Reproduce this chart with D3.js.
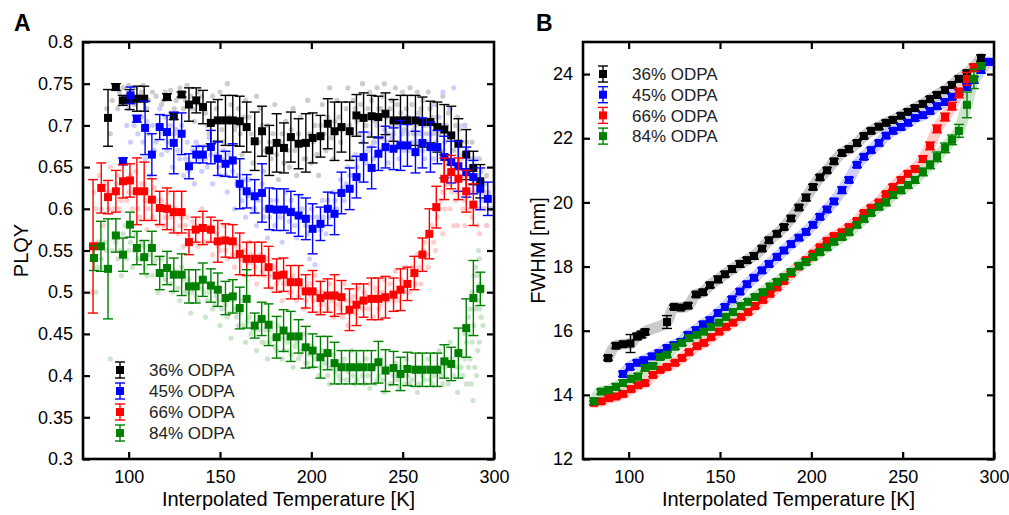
<!DOCTYPE html>
<html><head><meta charset="utf-8">
<script src="https://cdn.jsdelivr.net/npm/d3@7"></script>
<style>body{margin:0;background:#fff}svg{display:block;font-family:"Liberation Sans",Arial,Helvetica,sans-serif}</style>
</head><body>
<svg id="c" width="1009" height="515"></svg>
<script>
// ---------- DATA ----------
const seriesNames = ["36% ODPA","45% ODPA","66% ODPA","84% ODPA"];
const seriesColors = ["#000000","#0000ff","#ff0000","#008000"];
const rawColors = ["#c4c4c4","#c6c6ff","#ffc6c6","#c4e0c4"];
const xTicks = [100,150,200,250,300];
const yTicksA = [0.3,0.35,0.4,0.45,0.5,0.55,0.6,0.65,0.7,0.75,0.8];
const yTickLabelsA = ["0.3","0.35","0.4","0.45","0.5","0.55","0.6","0.65","0.7","0.75","0.8"];
const yTicksB = [12,14,16,18,20,22,24];

// Panel A binned PLQY: [T, value, error]
const plqy36 = [[88.7,0.709,0.034],[93,0.746,0.004],[96.8,0.730,0.006],[100.5,0.731,0.012],[104.5,0.732,0.015],[108.5,0.732,0.015],[121,0.734,0.004],[124.7,0.711,0.004],[129,0.737,0.003],[133,0.725,0.02],[137,0.730,0.015],[140.7,0.722,0.02],[145,0.703,0.025],[148.8,0.706,0.025],[153,0.706,0.03],[157,0.706,0.03],[160.8,0.705,0.03],[164.6,0.698,0.03],[169,0.681,0.035],[173,0.693,0.03],[177,0.670,0.03],[181,0.679,0.035],[185,0.673,0.03],[188.8,0.686,0.03],[193,0.678,0.03],[197,0.679,0.035],[200.7,0.685,0.03],[205,0.687,0.025],[209,0.702,0.03],[212.7,0.693,0.035],[216.5,0.698,0.03],[221,0.693,0.035],[224.7,0.712,0.025],[228.6,0.709,0.03],[233,0.711,0.025],[236.7,0.710,0.025],[240.6,0.714,0.025],[245,0.706,0.025],[248.8,0.706,0.03],[252.6,0.706,0.03],[257,0.706,0.03],[260.8,0.704,0.03],[265.2,0.704,0.025],[269,0.698,0.03],[272.8,0.695,0.03],[276.6,0.688,0.035],[280.5,0.678,0.03],[284.8,0.665,0.03],[288.7,0.649,0.02],[292.5,0.633,0.02]];
const plqy45 = [[96.9,0.657,0.004],[101,0.736,0.01],[104.5,0.708,0.004],[109,0.697,0.032],[112.7,0.665,0.025],[117,0.698,0.015],[121,0.692,0.02],[124.7,0.679,0.037],[129,0.690,0.025],[133,0.651,0.015],[137,0.665,0.01],[140.6,0.665,0.01],[145,0.674,0.02],[148.8,0.660,0.02],[153,0.654,0.015],[157,0.658,0.02],[160.8,0.630,0.03],[164.6,0.621,0.02],[169,0.615,0.02],[173,0.619,0.035],[177,0.600,0.025],[181,0.599,0.025],[185,0.599,0.025],[188.8,0.596,0.025],[193,0.592,0.025],[197,0.588,0.025],[200.7,0.576,0.03],[205,0.582,0.02],[209,0.600,0.02],[212.7,0.594,0.025],[216.5,0.619,0.025],[221,0.624,0.025],[224.7,0.638,0.025],[228.6,0.662,0.03],[233,0.649,0.025],[236.7,0.666,0.02],[240.6,0.674,0.025],[245,0.672,0.025],[248.8,0.676,0.03],[252.6,0.676,0.025],[257,0.668,0.025],[260.8,0.679,0.03],[265.2,0.674,0.03],[269,0.674,0.02],[272.8,0.662,0.025],[276.6,0.656,0.025],[280.5,0.651,0.03],[284.8,0.644,0.03],[288.7,0.638,0.02],[292.5,0.624,0.025],[296.6,0.612,0.02]];
const plqy66 = [[80.5,0.555,0.08],[85,0.625,0.03],[88.7,0.614,0.02],[93,0.621,0.025],[96.9,0.633,0.02],[100.7,0.634,0.02],[104.5,0.621,0.04],[108.5,0.621,0.035],[112.7,0.611,0.025],[117,0.601,0.02],[121,0.600,0.025],[124.7,0.596,0.025],[129,0.596,0.025],[133,0.560,0.015],[136.7,0.575,0.015],[140.6,0.577,0.02],[145,0.575,0.015],[148.8,0.561,0.025],[153,0.562,0.02],[157,0.561,0.02],[160.8,0.546,0.025],[164.6,0.540,0.02],[169,0.540,0.02],[172.8,0.540,0.02],[176.6,0.530,0.025],[181,0.520,0.02],[184.8,0.521,0.02],[188.7,0.512,0.02],[193,0.512,0.02],[196.9,0.501,0.02],[200.7,0.501,0.025],[205,0.493,0.02],[208.9,0.496,0.02],[212.7,0.496,0.025],[216.5,0.494,0.02],[220.9,0.479,0.025],[224.7,0.485,0.025],[228.6,0.490,0.02],[232.9,0.492,0.025],[236.7,0.492,0.025],[240.6,0.494,0.025],[245,0.497,0.02],[248.8,0.503,0.025],[252.6,0.510,0.02],[256.4,0.523,0.02],[260.8,0.545,0.02],[264.6,0.570,0.03],[268.4,0.602,0.025],[272.8,0.636,0.025],[276.6,0.644,0.02],[280.5,0.636,0.025],[284.8,0.621,0.025],[288.7,0.605,0.025]];
const plqy84 = [[81,0.541,0.015],[84.8,0.555,0.03],[88.7,0.528,0.06],[93,0.568,0.02],[96.9,0.545,0.02],[100.7,0.581,0.015],[104.5,0.553,0.02],[108.5,0.542,0.02],[112.7,0.553,0.02],[117,0.523,0.02],[121,0.529,0.02],[124.7,0.521,0.02],[129,0.521,0.025],[133,0.507,0.02],[136.7,0.507,0.02],[140.6,0.515,0.02],[145,0.508,0.02],[148.8,0.503,0.02],[153,0.493,0.02],[157,0.495,0.02],[160.8,0.481,0.025],[164.6,0.492,0.035],[169,0.460,0.015],[172.8,0.468,0.02],[176.6,0.461,0.025],[181,0.446,0.025],[184.8,0.454,0.025],[188.7,0.447,0.03],[193,0.447,0.02],[196.9,0.434,0.025],[200.7,0.430,0.02],[205,0.422,0.025],[208.9,0.427,0.02],[212.7,0.415,0.025],[216.5,0.410,0.02],[220.9,0.410,0.02],[224.7,0.410,0.02],[228.6,0.410,0.02],[232.9,0.410,0.02],[236.7,0.416,0.025],[240.6,0.406,0.025],[245,0.409,0.02],[248.8,0.402,0.02],[252.6,0.408,0.02],[257,0.407,0.02],[260.8,0.407,0.02],[265.2,0.407,0.02],[269,0.407,0.02],[272.8,0.417,0.02],[276.6,0.414,0.02],[280.5,0.427,0.03],[284.8,0.457,0.035],[288.7,0.493,0.045],[292.5,0.504,0.02]];

// Panel A raw PLQY points: [T, value]
const raw36 = [[88,0.72],[90,0.69],[92,0.748],[95,0.74],[97,0.745],[100,0.748],[102,0.74],[104,0.745],[106,0.735],[108,0.748],[110,0.72],[113,0.74],[118,0.725],[120,0.74],[123,0.742],[126,0.73],[128,0.745],[130,0.72],[132,0.748],[134,0.735],[136,0.705],[138,0.74],[140,0.735],[142,0.715],[144,0.69],[146,0.735],[148,0.72],[150,0.74],[152,0.68],[154,0.75],[156,0.725],[158,0.695],[160,0.72],[162,0.665],[164,0.73],[166,0.71],[168,0.655],[170,0.735],[172,0.72],[174,0.645],[176,0.7],[178,0.66],[180,0.725],[182,0.635],[184,0.69],[186,0.705],[188,0.65],[190,0.72],[192,0.64],[194,0.71],[196,0.66],[198,0.73],[200,0.655],[202,0.7],[204,0.64],[206,0.725],[208,0.67],[210,0.745],[212,0.66],[214,0.73],[216,0.68],[218,0.7],[220,0.745],[222,0.66],[224,0.72],[226,0.69],[228,0.75],[230,0.7],[232,0.74],[234,0.68],[236,0.745],[238,0.72],[240,0.75],[242,0.69],[244,0.73],[246,0.745],[248,0.7],[250,0.74],[252,0.72],[254,0.745],[256,0.69],[258,0.74],[260,0.72],[262,0.7],[264,0.74],[266,0.71],[268,0.725],[270,0.69],[272,0.735],[274,0.7],[276,0.72],[278,0.67],[280,0.71],[282,0.68],[284,0.7],[286,0.66],[288,0.68],[290,0.64],[292,0.66],[294,0.62],[296,0.64],[298,0.6],
 [91,0.73],[94,0.72],[99,0.735],[103,0.725],[107,0.74],[111,0.73],[115,0.735],[119,0.73],[125,0.72],[131,0.73],[135,0.72],[139,0.725],[143,0.7],[147,0.705],[151,0.695],[155,0.71],[159,0.7],[161,0.69],[163,0.71],[167,0.69],[171,0.68],[173,0.7],[175,0.67],[177,0.68],[179,0.69],[181,0.665],[183,0.68],[185,0.655],[187,0.67],[189,0.695],[191,0.67],[193,0.69],[195,0.68],[197,0.66],[199,0.69],[201,0.68],[203,0.665],[205,0.7],[207,0.69],[209,0.71],[211,0.685],[213,0.705],[215,0.71],[217,0.695],[219,0.72],[221,0.7],[223,0.73],[225,0.705],[227,0.725],[229,0.71],[231,0.72],[233,0.73],[235,0.705],[237,0.72],[239,0.735],[241,0.71],[243,0.72],[245,0.7],[247,0.725],[249,0.715],[251,0.695],[253,0.71],[255,0.725],[257,0.7],[259,0.715],[261,0.73],[263,0.69],[265,0.72],[267,0.69],[269,0.71],[271,0.7],[273,0.68],[275,0.715],[277,0.69],[279,0.7],[281,0.695],[283,0.665],[285,0.68],[287,0.65],[289,0.66],[291,0.63],[293,0.645],[295,0.6],[297,0.62]];
const raw45 = [[97,0.66],[100,0.72],[103,0.7],[106,0.73],[108,0.68],[110,0.705],[112,0.64],[114,0.67],[116,0.7],[118,0.665],[120,0.71],[122,0.68],[124,0.65],[126,0.695],[128,0.66],[130,0.64],[132,0.68],[134,0.655],[136,0.63],[138,0.675],[140,0.645],[142,0.66],[144,0.685],[146,0.63],[148,0.665],[150,0.64],[152,0.67],[154,0.62],[156,0.655],[158,0.6],[160,0.64],[162,0.61],[164,0.59],[166,0.635],[168,0.6],[170,0.58],[172,0.62],[174,0.59],[176,0.565],[178,0.61],[180,0.58],[182,0.6],[184,0.56],[186,0.62],[188,0.585],[190,0.6],[192,0.565],[194,0.615],[196,0.59],[198,0.57],[199,0.54],[200,0.6],[202,0.533],[204,0.58],[206,0.61],[208,0.57],[210,0.59],[212,0.62],[214,0.6],[216,0.635],[218,0.61],[220,0.65],[222,0.625],[224,0.665],[226,0.64],[228,0.68],[230,0.655],[232,0.69],[234,0.66],[236,0.7],[238,0.67],[240,0.695],[242,0.655],[244,0.685],[246,0.7],[248,0.66],[250,0.69],[252,0.71],[254,0.67],[256,0.695],[258,0.68],[260,0.71],[262,0.66],[264,0.7],[266,0.725],[268,0.68],[270,0.71],[272,0.74],[274,0.69],[276,0.72],[278,0.745],[280,0.68],[282,0.66],[284,0.7],[286,0.64],[288,0.62],[290,0.66],[292,0.6],[294,0.62],[296,0.58],[298,0.6],
 [99,0.7],[101,0.68],[105,0.69],[107,0.71],[109,0.66],[111,0.69],[113,0.7],[115,0.68],[117,0.72],[119,0.69],[121,0.67],[123,0.7],[125,0.69],[127,0.67],[129,0.7],[131,0.66],[133,0.645],[135,0.67],[137,0.68],[139,0.66],[141,0.675],[143,0.65],[145,0.665],[147,0.68],[149,0.65],[151,0.66],[153,0.64],[155,0.665],[157,0.645],[159,0.63],[161,0.625],[163,0.635],[165,0.615],[167,0.62],[169,0.6],[171,0.61],[173,0.63],[175,0.6],[177,0.59],[179,0.6],[181,0.61],[183,0.59],[185,0.6],[187,0.6],[189,0.61],[191,0.58],[193,0.59],[195,0.6],[197,0.58],[199,0.59],[201,0.575],[203,0.59],[205,0.575],[207,0.59],[209,0.61],[211,0.6],[213,0.61],[215,0.62],[217,0.625],[219,0.63],[221,0.64],[223,0.64],[225,0.65],[227,0.66],[229,0.665],[231,0.67],[233,0.675],[235,0.68],[237,0.665],[239,0.685],[241,0.68],[243,0.67],[245,0.69],[247,0.675],[249,0.68],[251,0.67],[253,0.69],[255,0.68],[257,0.665],[259,0.69],[261,0.67],[263,0.68],[265,0.69],[267,0.66],[269,0.695],[271,0.67],[273,0.7],[275,0.66],[277,0.69],[279,0.65],[281,0.7],[283,0.64],[285,0.67],[287,0.66],[289,0.63],[291,0.64],[293,0.61],[295,0.63],[297,0.61]];
const raw66 = [[80,0.5],[82,0.6],[84,0.64],[86,0.58],[88,0.62],[90,0.65],[92,0.6],[94,0.64],[96,0.61],[98,0.655],[100,0.62],[102,0.6],[104,0.645],[106,0.59],[108,0.63],[110,0.575],[112,0.61],[114,0.625],[116,0.58],[118,0.61],[120,0.59],[122,0.62],[124,0.575],[126,0.6],[128,0.58],[130,0.555],[132,0.59],[134,0.565],[136,0.58],[138,0.555],[140,0.6],[142,0.56],[144,0.575],[146,0.545],[148,0.57],[150,0.55],[152,0.58],[154,0.54],[156,0.56],[158,0.53],[160,0.555],[162,0.54],[164,0.52],[166,0.56],[168,0.535],[170,0.51],[172,0.545],[174,0.52],[176,0.54],[178,0.505],[180,0.53],[182,0.515],[184,0.49],[186,0.525],[188,0.5],[190,0.52],[192,0.49],[194,0.51],[196,0.48],[198,0.505],[200,0.495],[202,0.52],[204,0.475],[206,0.5],[208,0.485],[210,0.51],[212,0.47],[214,0.495],[216,0.48],[218,0.51],[220,0.46],[222,0.49],[224,0.475],[226,0.505],[228,0.48],[230,0.495],[232,0.51],[234,0.47],[236,0.5],[238,0.485],[240,0.515],[242,0.49],[244,0.5],[246,0.525],[248,0.49],[250,0.51],[252,0.53],[254,0.5],[256,0.52],[258,0.545],[260,0.51],[262,0.56],[264,0.53],[266,0.58],[268,0.55],[270,0.6],[272,0.57],[272,0.62],[274,0.63],[276,0.6],[276,0.63],[278,0.65],[278,0.58],[280,0.58],[280,0.62],[282,0.66],[283,0.64],[284,0.61],[284,0.58],[286,0.64],[288,0.59],[288,0.64],[290,0.62],[290,0.6],[292,0.57],[293,0.63],[294,0.6],[296,0.58],
 [81,0.62],[83,0.56],[85,0.6],[87,0.63],[89,0.6],[91,0.62],[93,0.63],[95,0.6],[97,0.635],[99,0.61],[101,0.64],[103,0.62],[105,0.6],[107,0.63],[109,0.61],[111,0.6],[113,0.59],[115,0.61],[117,0.6],[119,0.58],[121,0.605],[123,0.59],[125,0.6],[127,0.57],[129,0.59],[131,0.58],[133,0.57],[135,0.585],[137,0.56],[139,0.58],[141,0.575],[143,0.56],[145,0.58],[147,0.56],[149,0.555],[151,0.565],[153,0.55],[155,0.56],[157,0.545],[159,0.555],[161,0.54],[163,0.55],[165,0.535],[167,0.545],[169,0.53],[171,0.54],[173,0.525],[175,0.53],[177,0.52],[179,0.53],[181,0.51],[183,0.52],[185,0.51],[187,0.515],[189,0.5],[191,0.51],[193,0.495],[195,0.505],[197,0.49],[199,0.51],[201,0.49],[203,0.5],[205,0.485],[207,0.495],[209,0.48],[211,0.49],[213,0.5],[215,0.485],[217,0.47],[219,0.49],[221,0.475],[223,0.495],[225,0.48],[227,0.49],[229,0.5],[231,0.48],[233,0.49],[235,0.505],[237,0.48],[239,0.5],[241,0.49],[243,0.51],[245,0.49],[247,0.5],[249,0.515],[251,0.5],[253,0.51],[255,0.53],[257,0.51],[259,0.53],[261,0.55],[263,0.545],[265,0.57],[267,0.56],[269,0.59],[271,0.61],[273,0.6],[275,0.64],[277,0.62],[279,0.61],[281,0.64],[283,0.6],[285,0.62],[287,0.6],[289,0.62],[291,0.58],[293,0.6],[295,0.62]];
const raw84 = [[80,0.54],[82,0.5],[84,0.56],[86,0.53],[88,0.55],[90,0.42],[92,0.57],[94,0.54],[96,0.52],[98,0.58],[100,0.55],[102,0.53],[104,0.57],[106,0.54],[108,0.555],[110,0.52],[112,0.56],[114,0.535],[116,0.5],[118,0.54],[120,0.515],[122,0.53],[124,0.5],[126,0.525],[128,0.49],[130,0.515],[132,0.5],[134,0.475],[136,0.51],[138,0.49],[140,0.505],[142,0.47],[144,0.5],[146,0.48],[148,0.495],[150,0.46],[152,0.49],[154,0.47],[156,0.445],[158,0.48],[160,0.46],[162,0.49],[164,0.44],[166,0.47],[168,0.455],[170,0.43],[172,0.465],[174,0.44],[176,0.42],[178,0.455],[180,0.435],[182,0.46],[184,0.42],[186,0.445],[188,0.43],[190,0.41],[192,0.44],[194,0.425],[196,0.45],[198,0.415],[200,0.435],[202,0.42],[204,0.4],[206,0.43],[208,0.415],[210,0.39],[212,0.425],[214,0.41],[216,0.395],[218,0.42],[220,0.405],[222,0.43],[224,0.39],[226,0.415],[228,0.4],[230,0.42],[232,0.385],[234,0.41],[236,0.395],[238,0.42],[240,0.38],[242,0.405],[244,0.39],[246,0.415],[248,0.385],[250,0.4],[252,0.42],[254,0.39],[256,0.405],[258,0.38],[260,0.41],[262,0.395],[264,0.42],[266,0.39],[268,0.405],[270,0.43],[272,0.39],[274,0.42],[276,0.44],[278,0.4],[280,0.38],[282,0.41],[284,0.45],[285,0.39],[286,0.47],[287,0.42],[288,0.5],[288.5,0.37],[289,0.46],[290,0.53],[290.5,0.4],[291,0.49],[291.5,0.55],[292,0.44],[292.5,0.51],[293,0.47],
 [81,0.555],[83,0.53],[85,0.54],[87,0.56],[89,0.53],[91,0.55],[93,0.56],[95,0.55],[97,0.57],[99,0.54],[101,0.56],[103,0.55],[105,0.54],[107,0.56],[109,0.53],[111,0.545],[113,0.52],[115,0.54],[117,0.525],[119,0.52],[121,0.53],[123,0.51],[125,0.52],[127,0.505],[129,0.53],[131,0.5],[133,0.515],[135,0.5],[137,0.495],[139,0.51],[141,0.5],[143,0.49],[145,0.505],[147,0.485],[149,0.49],[151,0.48],[153,0.485],[155,0.475],[157,0.49],[159,0.47],[161,0.475],[163,0.46],[165,0.465],[167,0.45],[169,0.46],[171,0.455],[173,0.44],[175,0.455],[177,0.44],[179,0.445],[181,0.43],[183,0.445],[185,0.43],[187,0.44],[189,0.425],[191,0.435],[193,0.42],[195,0.43],[197,0.415],[199,0.425],[201,0.41],[203,0.42],[205,0.41],[207,0.415],[209,0.4],[211,0.41],[213,0.405],[215,0.4],[217,0.415],[219,0.395],[221,0.41],[223,0.4],[225,0.395],[227,0.41],[229,0.39],[231,0.4],[233,0.41],[235,0.39],[237,0.4],[239,0.395],[241,0.41],[243,0.39],[245,0.4],[247,0.395],[249,0.41],[251,0.39],[253,0.4],[255,0.395],[257,0.41],[259,0.39],[261,0.4],[263,0.41],[265,0.395],[267,0.4],[269,0.41],[271,0.4],[273,0.41],[275,0.39],[277,0.42],[279,0.41],[281,0.43],[283,0.4],[284,0.42],[285,0.44],[286,0.41],[286.5,0.45],[287,0.48],[287.5,0.39],[288,0.44],[289,0.52],[289.5,0.41],[290,0.48],[291,0.43],[291,0.52],[292,0.54],[292,0.48],[293,0.5],[294,0.46]];

// Panel B binned FWHM [nm]: [T, value, error]
const fwhm36 = [[88.7,15.15,0.07],[93,15.53,0.08],[97,15.58,0.06],[101,15.6,0.28],[104.6,15.82,0.1],[107,15.88,0.1],[109,15.96,0.08],[121,16.27,0.2],[124.8,16.74,0.06],[128.6,16.72,0.06],[132.5,16.78,0.08],[136.9,17.13,0.08],[140.7,17.2,0.08],[144.5,17.42,0.08],[148.9,17.6,0.1],[152.7,17.76,0.08],[156.6,17.92,0.1],[160.9,18.08,0.1],[164.8,18.2,0.08],[168.6,18.33,0.1],[173,18.56,0.08],[176.8,18.82,0.08],[181.2,19.02,0.08],[185,19.23,0.08],[188.9,19.5,0.08],[193.2,19.84,0.08],[197.1,20.15,0.1],[200.9,20.48,0.08],[204.7,20.78,0.08],[208.6,21.0,0.08],[212.4,21.28,0.08],[216.8,21.54,0.08],[220.6,21.66,0.08],[225,21.85,0.08],[228.8,22.07,0.08],[232.7,22.23,0.08],[237,22.36,0.08],[240.9,22.48,0.08],[244.7,22.57,0.08],[249.1,22.7,0.08],[252.9,22.82,0.08],[256.7,22.94,0.08],[261.1,23.07,0.08],[265,23.22,0.08],[268.8,23.35,0.08],[273.2,23.5,0.08],[277,23.66,0.08],[280.8,23.85,0.08],[285.2,24.03,0.08],[289,24.22,0.08],[292.9,24.5,0.1]];
const fwhm45 = [[96.9,14.65,0.08],[100.7,14.87,0.08],[104.6,15.0,0.08],[108.4,15.08,0.08],[112.8,15.2,0.08],[116.6,15.3,0.08],[121,15.46,0.08],[124.8,15.55,0.08],[128.6,15.65,0.08],[132.5,15.87,0.08],[136.9,16.02,0.08],[140.7,16.2,0.08],[144.5,16.33,0.08],[148.9,16.55,0.08],[152.7,16.74,0.08],[156.6,16.98,0.08],[160.9,17.22,0.08],[164.8,17.45,0.08],[168.6,17.65,0.08],[173,17.88,0.08],[176.8,18.08,0.08],[181.2,18.3,0.08],[185,18.5,0.08],[188.9,18.7,0.08],[193.2,18.9,0.08],[197.1,19.08,0.08],[200.9,19.3,0.08],[204.7,19.55,0.08],[208.6,19.78,0.08],[212.4,20.03,0.08],[216.8,20.38,0.1],[220.6,20.7,0.08],[225,21.17,0.08],[228.8,21.42,0.08],[232.7,21.63,0.08],[237,21.85,0.08],[240.9,22.08,0.08],[244.7,22.23,0.08],[249.1,22.35,0.08],[252.9,22.48,0.08],[256.7,22.63,0.08],[261.1,22.72,0.08],[265,22.85,0.08],[268.8,23.0,0.08],[273.2,23.13,0.08],[277,23.29,0.08],[280.8,23.44,0.08],[285.2,23.6,0.1],[289,23.82,0.1],[292.9,24.13,0.1],[297.3,24.38,0.1]];
const fwhm66 = [[81,13.75,0.06],[84.9,13.8,0.06],[89.2,13.9,0.06],[93.1,13.95,0.06],[96.9,14.03,0.06],[101.3,14.18,0.06],[105.1,14.3,0.06],[108.9,14.37,0.06],[113.3,14.62,0.06],[117.2,14.78,0.06],[121,14.87,0.06],[125.4,15.0,0.06],[129.2,15.15,0.06],[133,15.33,0.06],[137.4,15.52,0.06],[141.2,15.62,0.06],[145.1,15.8,0.06],[149.5,15.97,0.06],[153.3,16.12,0.06],[157.1,16.25,0.06],[161.5,16.43,0.06],[165.3,16.58,0.06],[169.2,16.77,0.06],[173.5,16.96,0.06],[177.4,17.15,0.06],[181.2,17.35,0.06],[185,17.55,0.06],[188.9,17.78,0.06],[193.2,18.0,0.06],[197.1,18.2,0.06],[200.9,18.4,0.06],[204.7,18.6,0.06],[208.6,18.8,0.06],[212.4,18.95,0.06],[216.8,19.07,0.06],[220.6,19.23,0.06],[225,19.42,0.06],[228.8,19.67,0.06],[232.7,19.83,0.06],[237,20.0,0.06],[240.9,20.26,0.06],[244.7,20.48,0.08],[249.1,20.7,0.08],[252.9,20.89,0.08],[256.7,21.04,0.08],[261.1,21.35,0.1],[265,21.76,0.12],[268.8,22.29,0.12],[273.2,22.66,0.12],[277,23.0,0.12],[280.8,23.41,0.15],[285.2,23.85,0.2],[289,24.2,0.12]];
const fwhm84 = [[81,13.8,0.1],[84.9,14.1,0.08],[89.2,14.15,0.1],[93.1,14.25,0.1],[96.9,14.37,0.1],[101.3,14.5,0.1],[105.1,14.57,0.1],[108.9,14.84,0.1],[113.3,14.9,0.08],[117.2,15.18,0.08],[121,15.25,0.08],[125.4,15.5,0.08],[129.2,15.62,0.08],[133,15.77,0.08],[137.4,15.87,0.08],[141.2,15.97,0.08],[145.1,16.12,0.08],[149.5,16.25,0.08],[153.3,16.43,0.08],[157.1,16.58,0.08],[161.5,16.77,0.08],[165.3,16.9,0.08],[169.2,17.05,0.08],[173.5,17.2,0.08],[177.4,17.38,0.08],[181.2,17.52,0.08],[185,17.67,0.08],[188.9,17.83,0.08],[193.2,18.02,0.08],[197.1,18.14,0.08],[200.9,18.3,0.08],[204.7,18.45,0.08],[208.6,18.6,0.08],[212.4,18.77,0.08],[216.8,18.92,0.08],[220.6,19.07,0.08],[225,19.3,0.08],[228.8,19.48,0.08],[232.7,19.67,0.08],[237,19.86,0.08],[240.9,20.0,0.1],[244.7,20.23,0.1],[249.1,20.38,0.1],[252.9,20.54,0.1],[256.7,20.7,0.1],[261.1,20.95,0.12],[265,21.17,0.12],[268.8,21.42,0.15],[273.2,21.7,0.15],[277,21.95,0.15],[280.8,22.23,0.2],[285.2,23.04,0.4],[289,23.85,0.3],[292.9,24.25,0.1]];

// ---------- DRAW ----------
const svg = d3.select("#c");
const FONT = '"Liberation Sans",Arial,Helvetica,sans-serif';

function panel(opts){
  const {x0,x1,y0,y1,xDom,yDom,yTicks,yFmt,yLabel,yLabelX,letter,letterX,raw,binned,halo,legendX,legendY,legendStep,id} = opts;
  const x = d3.scaleLinear().domain(xDom).range([x0,x1]);
  const y = d3.scaleLinear().domain(yDom).range([y1,y0]);
  const g = svg.append("g");
  g.append("clipPath").attr("id",id).append("rect").attr("x",x0).attr("y",y0).attr("width",x1-x0).attr("height",y1-y0);
  const plot = g.append("g").attr("clip-path",`url(#${id})`);

  if(raw){
    raw.forEach((pts,i)=>{
      plot.append("g").selectAll("circle").data(pts).join("circle")
        .attr("cx",d=>x(d[0])).attr("cy",d=>y(d[1])).attr("r",2.6)
        .attr("fill",rawColors[i]).attr("fill-opacity",0.85);
    });
  }
  if(halo){
    halo.forEach((pts,i)=>{
      plot.append("path").datum(pts)
        .attr("d",d3.line().x(d=>x(d[0])).y(d=>y(d[1])).curve(d3.curveMonotoneX))
        .attr("fill","none").attr("stroke",rawColors[i]).attr("stroke-width",11)
        .attr("stroke-linecap","round").attr("stroke-linejoin","round").attr("stroke-opacity",0.9);
    });
  }
  binned.forEach((pts,i)=>{
    const c = seriesColors[i];
    const sg = plot.append("g");
    const eb = sg.append("g").attr("stroke",c).attr("stroke-width",1.4);
    eb.selectAll("line.v").data(pts).join("line").attr("class","v")
      .attr("x1",d=>x(d[0])).attr("x2",d=>x(d[0])).attr("y1",d=>y(d[1]-d[2])).attr("y2",d=>y(d[1]+d[2]));
    eb.selectAll("line.t").data(pts).join("line").attr("class","t")
      .attr("x1",d=>x(d[0])-5).attr("x2",d=>x(d[0])+5).attr("y1",d=>y(d[1]+d[2])).attr("y2",d=>y(d[1]+d[2]));
    eb.selectAll("line.b").data(pts).join("line").attr("class","b")
      .attr("x1",d=>x(d[0])-5).attr("x2",d=>x(d[0])+5).attr("y1",d=>y(d[1]-d[2])).attr("y2",d=>y(d[1]-d[2]));
    sg.selectAll("rect").data(pts).join("rect")
      .attr("x",d=>x(d[0])-4).attr("y",d=>y(d[1])-4).attr("width",8).attr("height",8).attr("fill",c);
  });

  // axes (ticks inward)
  const ts = 7;
  const ax = g.append("g").attr("font-family",FONT);
  ax.append("g").attr("transform",`translate(0,${y1})`)
    .call(d3.axisBottom(x).tickValues(xTicks).tickSize(-ts).tickPadding(11).tickFormat(d3.format("d")));
  ax.append("g").attr("transform",`translate(0,${y0})`)
    .call(d3.axisTop(x).tickValues(xTicks.filter(t=>t<xDom[1])).tickSize(-ts).tickFormat(""));
  ax.append("g").attr("transform",`translate(${x0},0)`)
    .call(d3.axisLeft(y).tickValues(yTicks).tickSize(-ts).tickPadding(10).tickFormat(yFmt));
  ax.append("g").attr("transform",`translate(${x1},0)`)
    .call(d3.axisRight(y).tickValues(yTicks.filter(t=>t<yDom[1])).tickSize(-ts).tickFormat(""));
  ax.selectAll(".domain").remove();
  ax.selectAll(".tick line").attr("stroke","#000").attr("stroke-width",2.2);
  ax.selectAll(".tick text").attr("font-size",18).attr("fill","#000");
  g.append("rect").attr("x",x0).attr("y",y0).attr("width",x1-x0).attr("height",y1-y0)
    .attr("fill","none").attr("stroke","#000").attr("stroke-width",2.6);

  g.append("text").attr("x",(x0+x1)/2).attr("y",506).attr("text-anchor","middle")
    .attr("font-size",20).text("Interpolated Temperature [K]");
  g.append("text").attr("transform",`translate(${yLabelX},${(y0+y1)/2}) rotate(-90)`)
    .attr("text-anchor","middle").attr("font-size",20).text(yLabel);
  g.append("text").attr("x",letterX).attr("y",31).attr("font-size",23).attr("font-weight","bold").text(letter);

  // legend
  const lg = g.append("g");
  seriesNames.forEach((nm,i)=>{
    const ly = legendY + i*legendStep, c = seriesColors[i];
    const e = lg.append("g").attr("stroke",c).attr("stroke-width",1.4);
    e.append("line").attr("x1",legendX).attr("x2",legendX).attr("y1",ly-8).attr("y2",ly+8);
    e.append("line").attr("x1",legendX-5).attr("x2",legendX+5).attr("y1",ly-8).attr("y2",ly-8);
    e.append("line").attr("x1",legendX-5).attr("x2",legendX+5).attr("y1",ly+8).attr("y2",ly+8);
    lg.append("rect").attr("x",legendX-4).attr("y",ly-4).attr("width",8).attr("height",8).attr("fill",c);
    lg.append("text").attr("x",legendX+29).attr("y",ly).attr("dy","0.36em").attr("font-size",17).attr("fill","#222").text(nm);
  });
}

panel({id:"clipA",x0:83,x1:494,y0:42,y1:459,xDom:[75,300],yDom:[0.3,0.8],yTicks:yTicksA,
  yFmt:(d,i)=>yTickLabelsA[i],yLabel:"PLQY",yLabelX:28,letter:"A",letterX:14,
  raw:[raw36,raw45,raw66,raw84],binned:[plqy36,plqy45,plqy66,plqy84],
  legendX:120,legendY:370,legendStep:21});
panel({id:"clipB",x0:583,x1:994,y0:42,y1:459,xDom:[75,300],yDom:[12,25],yTicks:yTicksB,
  yFmt:d3.format("d"),yLabel:"FWHM [nm]",yLabelX:545,letter:"B",letterX:536,
  halo:[fwhm36,fwhm45,fwhm66,fwhm84],binned:[fwhm36,fwhm45,fwhm66,fwhm84],
  legendX:603,legendY:74,legendStep:20.7});
</script>
</body></html>
